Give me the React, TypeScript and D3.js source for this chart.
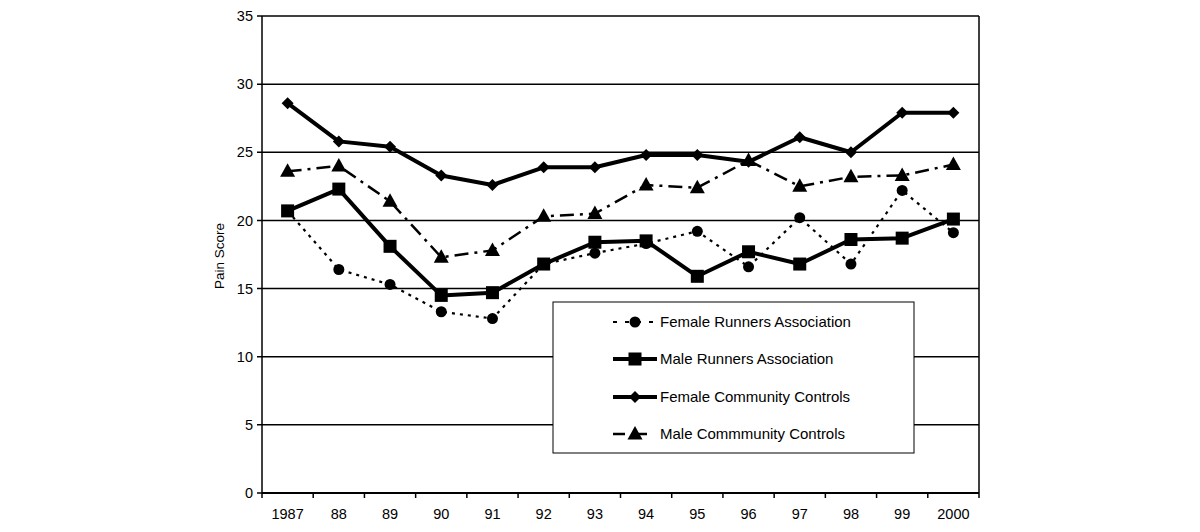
import React from "react";
import * as d3 from "d3";

const years = ["1987", "88", "89", "90", "91", "92", "93", "94", "95", "96", "97", "98", "99", "2000"];
const femaleRunners = [20.7, 16.4, 15.3, 13.3, 12.8, 16.8, 17.6, 18.3, 19.2, 16.6, 20.2, 16.8, 22.2, 19.1];
const maleRunners = [20.7, 22.3, 18.1, 14.5, 14.7, 16.8, 18.4, 18.5, 15.9, 17.7, 16.8, 18.6, 18.7, 20.1];
const femaleControls = [28.6, 25.8, 25.4, 23.3, 22.6, 23.9, 23.9, 24.8, 24.8, 24.3, 26.1, 25.0, 27.9, 27.9];
const maleControls = [23.6, 24.0, 21.4, 17.3, 17.8, 20.3, 20.5, 22.6, 22.4, 24.4, 22.5, 23.2, 23.3, 24.1];
const yTicks = [0, 5, 10, 15, 20, 25, 30, 35];

type Series = { name: string; values: number[]; marker: string; width: number; dash: string };
const series: Series[] = [
  { name: "Female Runners Association", values: femaleRunners, marker: "circle", width: 2.2, dash: "3,5" },
  { name: "Male Runners Association", values: maleRunners, marker: "square", width: 4, dash: "" },
  { name: "Female Community Controls", values: femaleControls, marker: "diamond", width: 4, dash: "" },
  { name: "Male Commmunity Controls", values: maleControls, marker: "triangle", width: 2.5, dash: "14,6,3,6" },
];

const L = 262, R = 979, T = 16, B = 493;

function Marker({ kind, x, y }: { kind: string; x: number; y: number }) {
  if (kind === "circle") return <circle cx={x} cy={y} r={5.5} fill="#000" />;
  if (kind === "square") return <rect x={x - 6.5} y={y - 6.5} width={13} height={13} fill="#000" />;
  if (kind === "diamond")
    return <path d={`M${x},${y - 6}L${x + 6},${y}L${x},${y + 6}L${x - 6},${y}Z`} fill="#000" />;
  return <path d={`M${x},${y - 8}L${x + 7.5},${y + 5.5}L${x - 7.5},${y + 5.5}Z`} fill="#000" />;
}

export default function App() {
  const x = d3.scaleBand<string>().domain(years).range([L, R]);
  const y = d3.scaleLinear().domain([0, 35]).range([B, T]);
  const cx = (i: number) => (x(years[i]) as number) + x.bandwidth() / 2;
  const line = d3
    .line<number>()
    .x((_, i) => cx(i))
    .y((v) => y(v));
  const font = "Liberation Sans, Arial, sans-serif";
  const legendX = 553, legendY = 302, legendW = 361, legendH = 151;
  const legendRows = [322, 359, 397, 434];

  return (
    <svg width={1200} height={532} style={{ position: "absolute", left: 0, top: 0 }} fontFamily={font}>
      <rect x={0} y={0} width={1200} height={532} fill="#fff" />
      {yTicks.map((t) => (
        <g key={t}>
          <line x1={L - 5} x2={R} y1={y(t)} y2={y(t)} stroke="#000" strokeWidth={1.5} />
          <text x={L - 9} y={y(t)} dy="0.35em" textAnchor="end" fontSize={14.5} fill="#000">
            {t}
          </text>
        </g>
      ))}
      <line x1={L} x2={L} y1={T} y2={B} stroke="#000" strokeWidth={1.5} />
      <line x1={R} x2={R} y1={T} y2={B} stroke="#000" strokeWidth={1.5} />
      <line x1={L} x2={R} y1={B} y2={B} stroke="#000" strokeWidth={2} />
      {years.map((yr, i) => (
        <g key={yr}>
          <line x1={x(yr) as number} x2={x(yr) as number} y1={B} y2={B + 5} stroke="#000" strokeWidth={1.5} />
          <text x={cx(i)} y={514} dy="0.35em" textAnchor="middle" fontSize={14.5} fill="#000">
            {yr}
          </text>
        </g>
      ))}
      <line x1={R} x2={R} y1={B} y2={B + 5} stroke="#000" strokeWidth={1.5} />
      <text transform={`translate(219,256) rotate(-90)`} textAnchor="middle" fontSize={13.5} fill="#000" dy="0.35em">
        Pain Score
      </text>
      {series.map((s) => (
        <g key={s.name}>
          <path
            d={line(s.values) || ""}
            fill="none"
            stroke="#000"
            strokeWidth={s.width}
            strokeDasharray={s.dash || undefined}
            strokeLinejoin="round"
          />
          {s.values.map((v, i) => (
            <Marker key={i} kind={s.marker} x={cx(i)} y={y(v)} />
          ))}
        </g>
      ))}
      <rect x={legendX} y={legendY} width={legendW} height={legendH} fill="#fff" stroke="#000" strokeWidth={1} />
      {series.map((s, i) => (
        <g key={s.name}>
          <line
            x1={613}
            x2={657}
            y1={legendRows[i]}
            y2={legendRows[i]}
            stroke="#000"
            strokeWidth={s.width}
            strokeDasharray={s.dash ? (s.marker === "circle" ? "4,8" : "12,10") : undefined}
          />
          <Marker kind={s.marker} x={635} y={legendRows[i]} />
          <text x={660} y={legendRows[i]} dy="0.35em" fontSize={15} fill="#000">
            {s.name}
          </text>
        </g>
      ))}
    </svg>
  );
}
